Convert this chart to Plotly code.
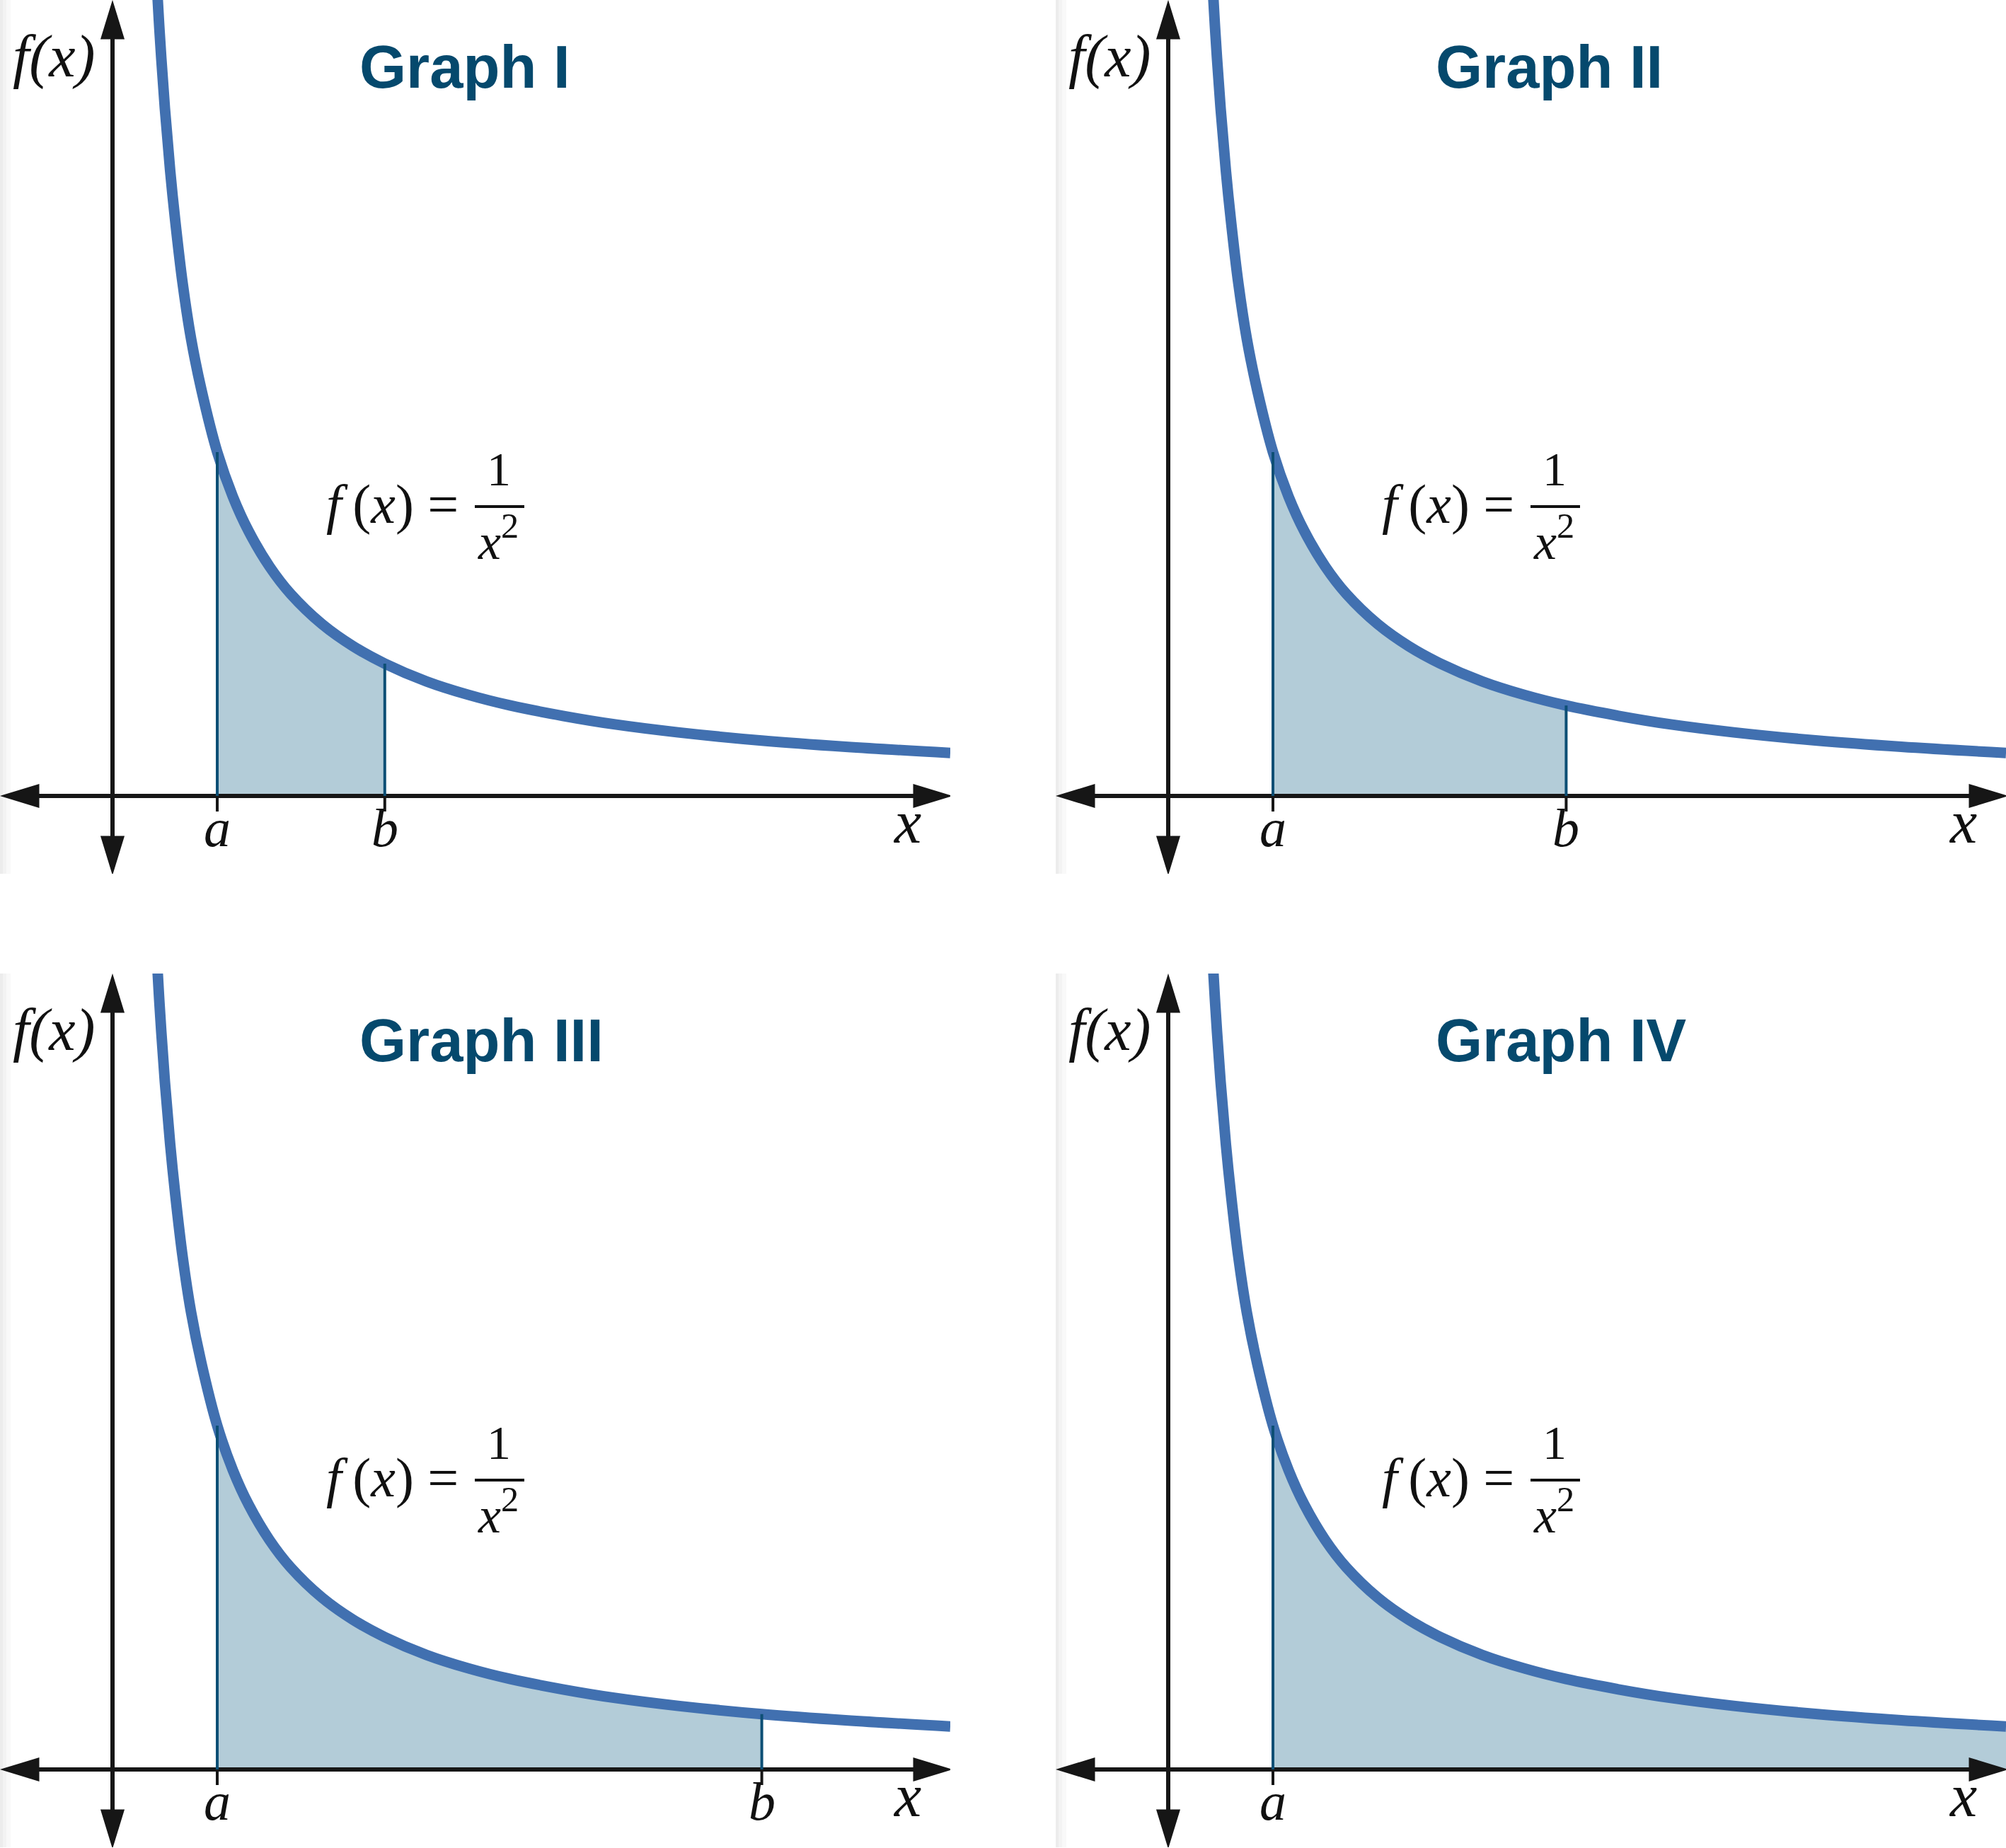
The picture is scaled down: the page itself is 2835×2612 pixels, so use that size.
import plotly.graph_objects as go

# ---------------- data ----------------
curve_x = [0.41, 0.45, 0.5, 0.55, 0.6, 0.67, 0.75, 0.85, 1.0, 1.15, 1.3, 1.5, 1.7,
           2.0, 2.3, 2.6, 3.0, 3.4, 3.8, 4.3, 4.8, 5.4, 6.2, 7.0, 8.0]
curve_y = [2.44, 2.22, 2.0, 1.82, 1.67, 1.49, 1.33, 1.18, 1.0, 0.87, 0.77, 0.667, 0.588,
           0.5, 0.435, 0.385, 0.333, 0.294, 0.263, 0.233, 0.208, 0.185, 0.161, 0.143, 0.125]

panel_titles = ["Graph I", "Graph II", "Graph III", "Graph IV"]
a_values = [1.0, 1.0, 1.0, 1.0]
b_values = [2.6, 3.8, 6.2, 8.0]
a_labels = ["a", "a", "a", "a"]
b_labels = ["b", "b", "b", ""]
y_axis_label = "f(x)"
x_axis_label = "x"

# ---------------- geometry / style ----------------
W, H = 2835, 2612
PANEL_W, PANEL_H = 1343, 1235
OX, OY = 159, 1125          # origin position inside a panel (px)
PXX, PXY = 148.0, 486.0     # px per unit
offsets = [(0, 0), (1492, 0), (0, 1376), (1492, 1376)]
title_left_px = [506, 535, 506, 535]

CURVE_COLOR = "#4170B0"
FILL_COLOR = "#B3CCD8"
EDGE_COLOR = "#0D4F75"
AXIS_COLOR = "#161616"
TITLE_COLOR = "#05496D"
TEXT_COLOR = "#111111"
SERIF = "Liberation Serif, DejaVu Serif, serif"
SANS = "Liberation Sans, Arial, sans-serif"


def px2x(px):
    return (px - OX) / PXX


def px2y(py):
    return (OY - py) / PXY


fig = go.Figure()
layout_axes = {}
shapes = []
annotations = []

for i, (ox, oy) in enumerate(offsets):
    n = "" if i == 0 else str(i + 1)
    xr, yr = "x" + n, "y" + n
    layout_axes["xaxis" + n] = dict(domain=[ox / W, min(1.0, (ox + PANEL_W) / W)],
                                    range=[px2x(0), px2x(PANEL_W)], visible=False,
                                    fixedrange=True, anchor=yr)
    layout_axes["yaxis" + n] = dict(domain=[max(0.0, 1 - (oy + PANEL_H) / H), 1 - oy / H],
                                    range=[px2y(PANEL_H), px2y(0)], visible=False,
                                    fixedrange=True, anchor=xr)
    a, b = a_values[i], b_values[i]

    # shaded area
    fx = [x for x in curve_x if a <= x <= b]
    fy = [y for x, y in zip(curve_x, curve_y) if a <= x <= b]
    fig.add_trace(go.Scatter(x=fx, y=fy, mode="lines",
                             line=dict(width=0, shape="spline", color=FILL_COLOR),
                             fill="tozeroy", fillcolor=FILL_COLOR,
                             xaxis=xr, yaxis=yr, hoverinfo="skip", showlegend=False))

    # axes lines
    fig.add_trace(go.Scatter(x=[px2x(30), px2x(PANEL_W - 25)], y=[0, 0], mode="lines",
                             line=dict(width=6, color=AXIS_COLOR),
                             xaxis=xr, yaxis=yr, hoverinfo="skip", showlegend=False))
    fig.add_trace(go.Scatter(x=[0, 0], y=[px2y(30), px2y(1208)], mode="lines",
                             line=dict(width=6, color=AXIS_COLOR),
                             xaxis=xr, yaxis=yr, hoverinfo="skip", showlegend=False))

    # curve
    fig.add_trace(go.Scatter(x=curve_x, y=curve_y, mode="lines",
                             line=dict(width=15, color=CURVE_COLOR, shape="spline"),
                             xaxis=xr, yaxis=yr, hoverinfo="skip", showlegend=False))

    # boundary lines (drawn over the curve), ticks and their labels
    bounds = [(a, a_labels[i])] + ([(b, b_labels[i])] if b_labels[i] else [])
    for xv, lab in bounds:
        yv = curve_y[curve_x.index(xv)]
        fig.add_trace(go.Scatter(x=[xv, xv], y=[0, yv], mode="lines",
                                 line=dict(width=4, color=EDGE_COLOR),
                                 xaxis=xr, yaxis=yr, hoverinfo="skip", showlegend=False))
        shapes.append(dict(type="line", xref=xr, yref=yr, x0=xv, x1=xv,
                           ysizemode="pixel", yanchor=0, y0=0, y1=-22,
                           line=dict(color=AXIS_COLOR, width=4), layer="above"))
        annotations.append(dict(xref=xr, yref=yr, x=xv, y=px2y(1170), text="<i>" + lab + "</i>",
                                showarrow=False, xanchor="center", yanchor="middle",
                                font=dict(family=SERIF, size=76, color=TEXT_COLOR)))

    # arrowheads
    arrow_style = dict(type="path", xref=xr, yref=yr, xsizemode="pixel", ysizemode="pixel",
                       fillcolor=AXIS_COLOR, line=dict(color=AXIS_COLOR, width=3), layer="above")
    shapes.append(dict(arrow_style, xanchor=px2x(PANEL_W - 2), yanchor=0, path="M0,0 L-49,15 L-49,-15 Z"))
    shapes.append(dict(arrow_style, xanchor=px2x(5), yanchor=0, path="M0,0 L49,15 L49,-15 Z"))
    shapes.append(dict(arrow_style, xanchor=0, yanchor=px2y(5), path="M0,0 L-15,-49 L15,-49 Z"))
    shapes.append(dict(arrow_style, xanchor=0, yanchor=px2y(1232), path="M0,0 L-15,49 L15,49 Z"))

    # faint left-edge shading of each panel
    for (d0, d1, c) in [(0, 4, "#ececec"), (4, 9, "#f3f3f3"), (9, 15, "#f9f9f9")]:
        shapes.append(dict(type="rect", xref="paper", yref="paper",
                           x0=(ox + d0) / W, x1=(ox + d1) / W,
                           y0=1 - (oy + PANEL_H) / H, y1=1 - oy / H,
                           fillcolor=c, line=dict(width=0), layer="below"))

    # fraction bar of the formula
    shapes.append(dict(type="line", xref=xr, yref=yr, x0=px2x(671), x1=px2x(741),
                       y0=px2y(716), y1=px2y(716), line=dict(color=TEXT_COLOR, width=4),
                       layer="above"))

    # texts
    annotations.append(dict(xref=xr, yref=yr, x=px2x(title_left_px[i]), y=px2y(94),
                            text="<b>" + panel_titles[i] + "</b>", showarrow=False,
                            xanchor="left", yanchor="middle",
                            font=dict(family=SANS, size=85, color=TITLE_COLOR)))
    annotations.append(dict(xref=xr, yref=yr, x=px2x(76), y=px2y(80),
                            text="<i>" + y_axis_label + "</i>", showarrow=False,
                            xanchor="center", yanchor="middle",
                            font=dict(family=SERIF, size=84, color=TEXT_COLOR)))
    annotations.append(dict(xref=xr, yref=yr, x=px2x(1282), y=px2y(1162),
                            text="<i>" + x_axis_label + "</i>", showarrow=False,
                            xanchor="center", yanchor="middle",
                            font=dict(family=SERIF, size=86, color=TEXT_COLOR)))
    annotations.append(dict(xref=xr, yref=yr, x=px2x(650), y=px2y(712),
                            text="<i>f</i>\u2009(<i>x</i>) =", showarrow=False,
                            xanchor="right", yanchor="middle",
                            font=dict(family=SERIF, size=78, color=TEXT_COLOR)))
    annotations.append(dict(xref=xr, yref=yr, x=px2x(705), y=px2y(663),
                            text="1", showarrow=False, xanchor="center", yanchor="middle",
                            font=dict(family=SERIF, size=68, color=TEXT_COLOR)))
    annotations.append(dict(xref=xr, yref=yr, x=px2x(704), y=px2y(760),
                            text="<i>x</i><sup>2</sup>", showarrow=False,
                            xanchor="center", yanchor="middle",
                            font=dict(family=SERIF, size=72, color=TEXT_COLOR)))

fig.update_layout(width=W, height=H, margin=dict(l=0, r=0, t=0, b=0),
                  paper_bgcolor="white", plot_bgcolor="white", showlegend=False,
                  shapes=shapes, annotations=annotations, **layout_axes)

fig.write_html("out.html", config={"displayModeBar": False},
               post_script="document.body.style.margin='0px';")
